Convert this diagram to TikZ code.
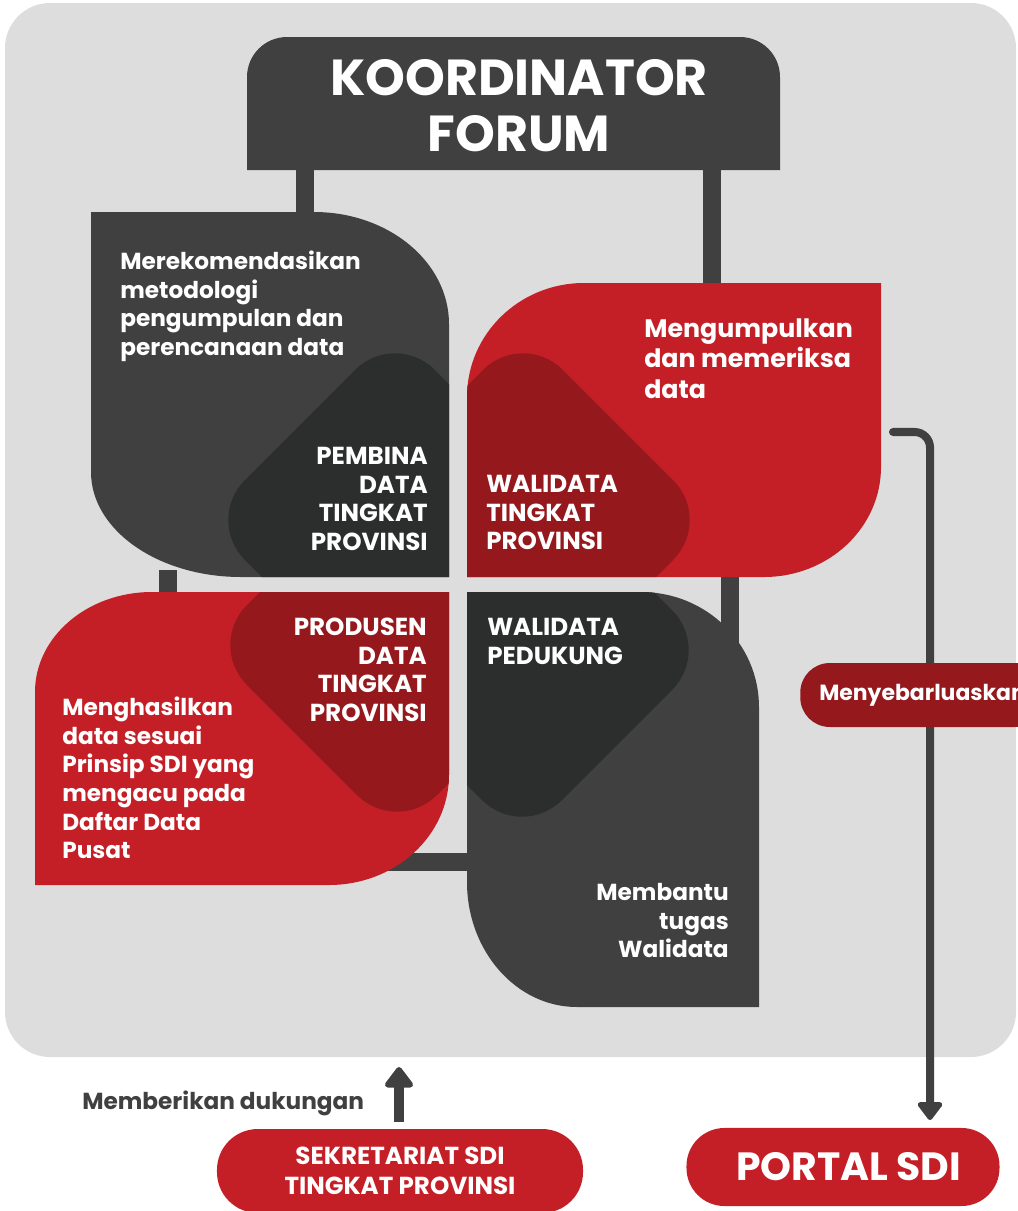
\documentclass[tikz,border=0pt]{standalone}
\usepackage{fontspec}
\setmainfont{Poppins}
\usetikzlibrary{arrows.meta}
\definecolor{bggray}{HTML}{DCDDDC}
\definecolor{darkgray}{HTML}{404040}
\definecolor{inkgray}{HTML}{2C2D2D}
\definecolor{sdired}{HTML}{C41F26}
\definecolor{sdidark}{HTML}{95181D}

\begin{document}
\begin{tikzpicture}[x=0.025cm, y=-0.025cm,
  title/.style={text=white, font=\fontsize{36}{40}\selectfont\bfseries, align=center, inner sep=0pt},
  body/.style={text=white, font=\fontsize{16.5}{20.3}\selectfont\bfseries, inner sep=0pt},
  bigbody/.style={text=white, font=\fontsize{18}{22}\selectfont\bfseries, inner sep=0pt},
  role/.style={text=white, font=\fontsize{17.5}{20.3}\selectfont\bfseries, inner sep=0pt},
  link/.style={draw=darkgray, line width=12.8pt},
  thinlink/.style={draw=darkgray, line width=5.7pt},
  pill/.style={fill=sdired, text=white, rounded corners=29pt, align=center, inner sep=0pt},
  tip/.style={-{Triangle[width=20pt, length=14pt, round]}}]
  \useasboundingbox (0,0) rectangle (1018,1211);
  \clip (0,0) rectangle (1018,1211);
  % background panel
  \fill[bggray, rounded corners=32pt] (5,3) rectangle (1016,1057);
  % connectors under the shapes
  \coordinate (koor-l) at (305,168);
  \coordinate (koor-r) at (712,168);
  \coordinate (pemb-t) at (305,214);
  \coordinate (pemb-b) at (168,570);
  \coordinate (walp-t) at (712,290);
  \coordinate (walp-b) at (730,570);
  \coordinate (prod-t) at (168,600);
  \coordinate (prod-r) at (380,862);
  \coordinate (pend-l) at (475,862);
  \coordinate (pend-t) at (730,660);
  \draw[link] (koor-l) -- (pemb-t);
  \draw[link] (koor-r) -- (walp-t);
  \draw[link] (pemb-b) -- (prod-t);
  \draw[link] (walp-b) -- (pend-t);
  \draw[link] (prod-r) -- (pend-l);
  % koordinator box
  \fill[darkgray] (247,170) -- (247,77) arc[start angle=180, end angle=270, radius=40]
    -- (740,37) arc[start angle=270, end angle=360, radius=40] -- (780,170) -- cycle;
  \node[title] (koor) at (519,106) {KOORDINATOR\\FORUM};
  % pembina
  \begin{scope}
    \clip (91,212) -- (314,212) arc[start angle=270, end angle=360, x radius=135, y radius=112]
      -- (449,577) -- (241,577) arc[start angle=90, end angle=180, x radius=150, y radius=105] -- cycle;
    \fill[darkgray] (0,0) rectangle (1018,1211);
    \fill[inkgray, rounded corners=40pt] (395,330) -- (585,520) -- (395,710) -- (205,520) -- cycle;
  \end{scope}
  % walidata tingkat provinsi
  \begin{scope}
    \clip (467,577) -- (467,397) arc[start angle=180, end angle=270, x radius=117, y radius=114]
      -- (881,283) -- (881,467) arc[start angle=0, end angle=90, x radius=117, y radius=110] -- cycle;
    \fill[sdired] (0,0) rectangle (1018,1211);
    \fill[sdidark, rounded corners=40pt] (523,330) -- (713,520) -- (523,710) -- (333,520) -- cycle;
  \end{scope}
  % produsen
  \begin{scope}
    \clip (35,885) -- (35,692) arc[start angle=180, end angle=270, x radius=117, y radius=100]
      -- (449,592) -- (449,775) arc[start angle=0, end angle=90, x radius=120, y radius=110] -- cycle;
    \fill[sdired] (0,0) rectangle (1018,1211);
    \fill[sdidark, rounded corners=40pt] (397,455) -- (587,645) -- (397,835) -- (207,645) -- cycle;
  \end{scope}
  % walidata pendukung
  \begin{scope}
    \clip (467,592) -- (641,592) arc[start angle=270, end angle=360, x radius=118, y radius=115]
      -- (759,1007) -- (577,1007) arc[start angle=90, end angle=180, x radius=110, y radius=125] -- cycle;
    \fill[darkgray] (0,0) rectangle (1018,1211);
    \fill[inkgray, rounded corners=40pt] (522,460) -- (712,650) -- (522,840) -- (332,650) -- cycle;
  \end{scope}
  % texts
  \node[body, anchor=north west, align=left] (pembtxt) at (120,251) {Merekomendasikan\\metodologi\\pengumpulan dan\\perencanaan data};
  \node[role, anchor=north east, align=right] (pembina) at (428,447) {PEMBINA\\DATA\\TINGKAT\\PROVINSI};
  \node[bigbody, anchor=north west, align=left] (waltxt) at (644,318) {Mengumpulkan\\dan memeriksa\\data};
  \node[role, anchor=north west, align=left] (walidata) at (486,475) {WALIDATA\\TINGKAT\\PROVINSI};
  \node[role, anchor=north east, align=right] (produsen) at (427,618) {PRODUSEN\\DATA\\TINGKAT\\PROVINSI};
  \node[body, anchor=north west, align=left] (prodtxt) at (62,697) {Menghasilkan\\data sesuai\\Prinsip SDI yang\\mengacu pada\\Daftar Data\\Pusat};
  \node[role, anchor=north west, align=left] (pendukung) at (487,618) {WALIDATA\\PEDUKUNG};
  \node[body, anchor=north east, align=right] (pendtxt) at (729,883) {Membantu\\tugas\\Walidata};
  % spreading line to portal
  \coordinate (walp-out) at (893,432);
  \coordinate (portal-in) at (930,1120);
  \draw[thinlink, line cap=round, rounded corners=11pt, tip] (walp-out) -- (walp-out -| portal-in) -- (portal-in);
  \node[fill=sdidark, text=white, rounded corners=21pt, anchor=west, minimum height=45.5pt,
    inner xsep=13.5pt, inner ysep=0pt, font=\fontsize{15.6}{20}\selectfont\bfseries] (spread) at (800,695) {Menyebarluaskan};
  % bottom
  \node[pill, minimum width=260.3pt, minimum height=59.7pt, font=\fontsize{17.5}{21.3}\selectfont\bfseries] (sekre) at (400,1171) {SEKRETARIAT SDI\\TINGKAT PROVINSI};
  \node[pill, minimum width=222.6pt, minimum height=55.5pt, rounded corners=27pt, font=\fontsize{28}{30}\selectfont\bfseries] (portal) at (843,1167) {\hspace*{8pt}PORTAL SDI};
  \coordinate (sekre-out) at (399,1122);
  \coordinate (panel-in) at (399,1067);
  \draw[link, line width=7.8pt, -{Triangle[width=23pt, length=16pt, round]}] (sekre-out) -- (panel-in);
  \node[text=darkgray, anchor=west, inner sep=0pt, font=\fontsize{16.5}{20}\selectfont\bfseries] (support) at (82,1103) {Memberikan dukungan};
\end{tikzpicture}
\end{document}
